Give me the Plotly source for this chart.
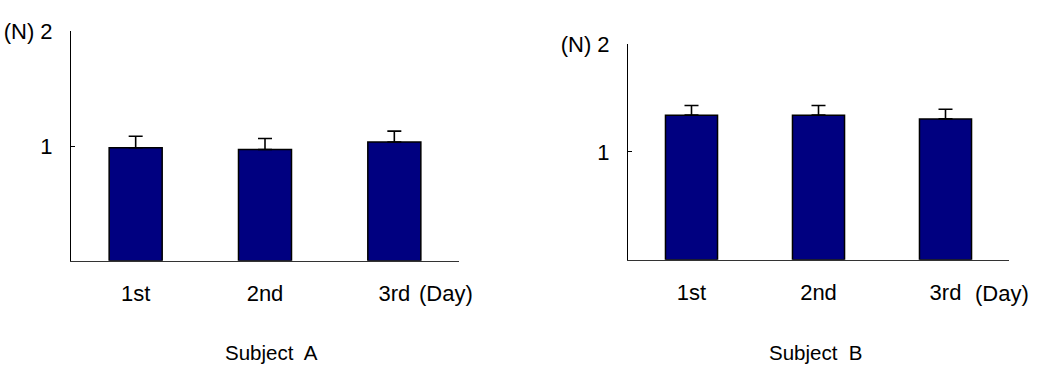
import plotly.graph_objects as go

days = ["1st", "2nd", "3rd"]
subject_a = [0.985, 0.97, 1.035]
subject_a_err = [0.10, 0.095, 0.095]
subject_b = [1.34, 1.34, 1.305]
subject_b_err = [0.09, 0.09, 0.09]
y_ticks = [1, 2]
y_ticklabels = ["1", "(N) 2"]
panel_titles = ["Subject  A", "Subject  B"]
unit_label = "(Day)"

W, H = 1038, 371
FAM = "Liberation Sans, Arial, sans-serif"
font = dict(family=FAM, size=22, color="black")

fig = go.Figure()
for xa, ya, vals, errs in [("x", "y", subject_a, subject_a_err),
                           ("x2", "y2", subject_b, subject_b_err)]:
    fig.add_trace(go.Bar(x=days, y=vals, xaxis=xa, yaxis=ya,
                         marker=dict(color="#000080", line=dict(color="black", width=1.5)),
                         width=0.41, hoverinfo="skip",
                         error_y=dict(type="data", array=errs, arrayminus=[0] * len(errs),
                                      symmetric=False, color="black", thickness=1.6, width=7)))

def xd(a, b):
    return [a / W, b / W]

def yd(top, bottom):
    return [1 - bottom / H, 1 - top / H]

xcommon = dict(showline=True, linecolor="#333", linewidth=1.2, ticks="",
               showgrid=False, zeroline=False, tickfont=font, ticklabelstandoff=13,
               fixedrange=True)
ycommon = dict(showline=True, linecolor="black", linewidth=1, ticks="inside",
               ticklen=4, tickcolor="black", showgrid=False, zeroline=False,
               range=[0, 2], tickvals=y_ticks, ticktext=y_ticklabels, tickfont=font,
               ticklabelstandoff=13, fixedrange=True)

fig.update_layout(
    width=W, height=H, margin=dict(l=0, r=0, t=0, b=0),
    paper_bgcolor="white", plot_bgcolor="white", showlegend=False, bargap=0,
    font=font,
    xaxis=dict(domain=xd(71, 459), anchor="y", **xcommon),
    yaxis=dict(domain=yd(20, 257), anchor="x", **ycommon),
    xaxis2=dict(domain=xd(628, 1009), anchor="y2", **xcommon),
    yaxis2=dict(domain=yd(33, 256), anchor="x2", **ycommon),
    annotations=[
        dict(text=unit_label, x=446 / W, y=1 - 291 / H, xref="paper", yref="paper",
             showarrow=False, font=font, xanchor="center", yanchor="middle"),
        dict(text=unit_label, x=1002 / W, y=1 - 291 / H, xref="paper", yref="paper",
             showarrow=False, font=font, xanchor="center", yanchor="middle"),
        dict(text=panel_titles[0], x=271 / W, y=1 - 352 / H, xref="paper", yref="paper",
             showarrow=False, font=dict(family=FAM, size=20.5, color="black"),
             xanchor="center", yanchor="middle"),
        dict(text=panel_titles[1], x=815 / W, y=1 - 352 / H, xref="paper", yref="paper",
             showarrow=False, font=dict(family=FAM, size=20.5, color="black"),
             xanchor="center", yanchor="middle"),
    ],
)

fig.write_html("out.html", config={"displayModeBar": False, "staticPlot": True},
               post_script="document.body.style.margin='0';document.body.style.overflow='hidden';")
